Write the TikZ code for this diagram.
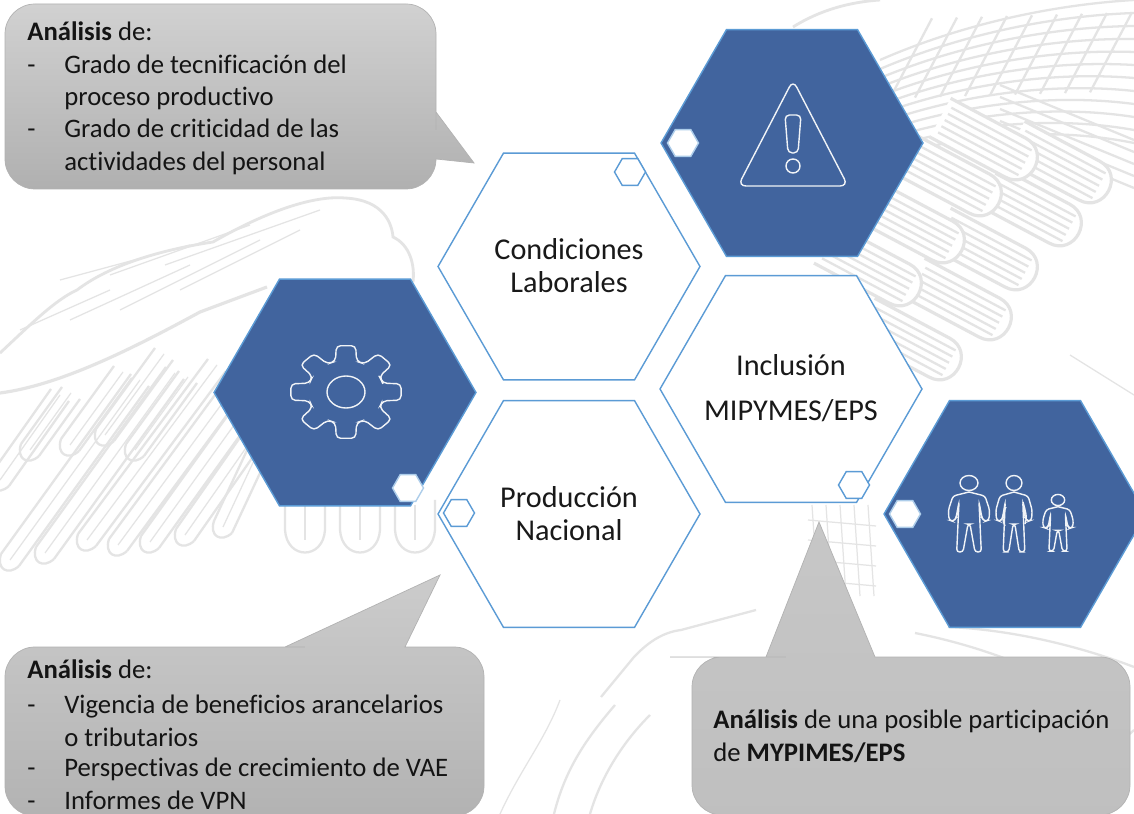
\documentclass[tikz,border=0pt]{standalone}
\usepackage{fontspec}
\setmainfont{Carlito}[Ligatures=CommonOff]
\usetikzlibrary{shapes.geometric}
\definecolor{hexblue}{HTML}{41649E}
\definecolor{hexline}{HTML}{5B9BD5}
\definecolor{markgray}{HTML}{E4E4E4}
\tikzset{
    hexbase/.style={regular polygon,regular polygon sides=6,minimum size=5.24cm,inner sep=0pt,outer sep=0pt,draw=hexline,line width=0.8pt},
    hexwhite/.style={hexbase,fill=white},
    hextext/.style={align=center,inner sep=0pt,font=\fontsize{17.2}{18.7}\selectfont,text=black!90},
    hexdark/.style={hexbase,fill=hexblue},
    hexmark/.style={regular polygon,regular polygon sides=6,minimum size=0.62cm,inner sep=0pt,draw=hexline,line width=0.8pt,fill=white},
    hexdot/.style={hexmark,draw=white!50!hexline},
    iconline/.style={draw=white!92!hexblue,line width=0.8pt},
    callbox/.style={draw=black!30,line width=0.4pt,rounded corners=0.6cm},
    calltext/.style={anchor=base west,inner sep=0pt,font=\fontsize{15.2}{18}\selectfont,text=black!92},
    markline/.style={draw=markgray,line width=1.3pt},
    markthin/.style={draw=markgray,line width=0.7pt},
    feather/.pic={
        \draw[markline,fill=white,line width=1.8pt] (-105,-22) -- (-20,-22) .. controls (9,-22) and (9,22) .. (-20,22) -- (-105,22);
        \foreach \w in {-14,-7,0,7,14}{
            \draw[markline] (-100,\w) -- (-9,\w);
        }
    },
    person/.pic={
        \draw[iconline] (0,0) ellipse (9 and 7.5);
        \foreach \s in {-1,1}{
            \draw[iconline,rounded corners=1.6pt,xscale=\s] (0,9) -- (16,13) -- (20.6,27) -- (20,37) -- (15.6,38.5) -- (13,35) -- (10,19) -- (12.3,69) -- (6,69) -- (1,41) -- (0,41);
        }
    }
}
\begin{document}
\begin{tikzpicture}[x=0.02cm,y=-0.02cm]
    \useasboundingbox[fill=white] (0,0) rectangle (1134,814);
    % left wing of the watermark
    \draw[markline,line width=1.6pt] (0,353) .. controls (30,325) and (55,300) .. (77,290) .. controls (110,265) and (160,250) .. (213,242) .. controls (260,215) and (310,195) .. (345,198) .. controls (385,200) and (392,225) .. (393,237) .. controls (410,245) and (415,265) .. (413,282);
    \draw[markline,line width=1.8pt] (0,393) .. controls (60,385) and (130,350) .. (200,312) -- (267,287);
    \foreach \tx/\ty/\dx/\dy in {10/560/130/180,45/553/130/180,87/540/130/175,118/545/125/170,150/542/115/160,185/535/105/150,223/527/70/150,30/450/41/57,70/445/53/73,105/435/59/81,135/450/53/73,0/480/60/85}{
        \draw[markline] (\tx-9,\ty-6) -- +(\dx,-\dy);
        \draw[markline] (\tx+9,\ty+6) -- +(\dx,-\dy);
        \draw[markline] (\tx-9,\ty-6) .. controls (\tx-14,\ty+9) and (\tx-2,\ty+16) .. (\tx+9,\ty+6);
        \draw[markthin] (\tx,\ty) -- +(\dx,-\dy);
    }
    \foreach \a/\b/\c/\d in {60/280/190/245,110/275/250/225,165/265/320/210,20/330/110/290,70/320/190/265,120/310/260/240,180/290/300/230}{
        \draw[markthin] (\a,\b) -- (\c,\d);
    }
    \foreach \tx in {305,360,415}{
        \draw[markline] (\tx+20,500) -- (\tx+20,530) .. controls (\tx+18,560) and (\tx-18,560) .. (\tx-20,530) -- (\tx-20,500);
        \draw[markthin] (\tx,505) -- (\tx,540);
    }
    % right wing of the watermark
    \draw[markline,line width=1.6pt] (793,27) .. controls (820,10) and (850,2) .. (880,0);
    \foreach \y in {0,10,...,110}{
        \draw[markline] (880,60+\y*0.9) .. controls (960,25+\y) and (1050,5+\y*1.1) .. (1134,0+\y*1.3);
    }
    \foreach \x in {890,915,...,1110}{
        \draw[markline] (\x,125-\x*0.03) -- (\x+42,45-\x*0.03);
    }
    \foreach \y in {85,97,...,133}{
        \draw[markline] (1000,\y) -- (1134,\y+55);
    }
    \foreach \tx/\ty in {957/367,1007/327,917/293,1033/277,960/250,1077/233,997/203,1107/190,1033/167}{
        \pic[rotate=-28] at (\tx,\ty) {feather};
    }
    % body and claw of the watermark
    \foreach \x in {812,826,...,868}{
        \draw[markthin] (\x,505) -- (\x+6,596);
    }
    \foreach \y in {520,540,...,590}{
        \draw[markthin] (808,\y) -- (876,\y+6);
    }
    \draw[markline] (601,697) -- (634,657) .. controls (650,640) and (665,632) .. (681,630) -- (756,610);
    \draw[markline] (554,814) .. controls (565,770) and (585,740) .. (615,705);
    \draw[markline] (590,814) .. controls (600,780) and (620,745) .. (650,715);
    \draw[markline] (915,633) .. controls (1000,650) and (1060,680) .. (1102,707);
    \draw[markline] (948,627) .. controls (1020,630) and (1090,650) .. (1134,667);
    \draw[markline] (1134,730) .. controls (1134,730) and (1090,770) .. (1040,814);
    \draw[markline] (740,690) -- (800,735) -- (880,800);
    \draw[markthin] (1070,355) -- (1134,395);
    \draw[markthin] (500,814) .. controls (520,770) and (545,740) .. (560,700);
    % white hexagons
    \node[hexwhite] (condiciones) at (569,266.5) {};
    \node[hexwhite] (inclusion) at (791,389) {};
    \node[hexwhite] (produccion) at (569,514) {};
    \node[hextext] (condicionestxt) at (569,265.5) {Condiciones\\Laborales};
    \node[hextext] (inclusiontxt) at (791,388) {Inclusión\\[0.24cm]MIPYMES/EPS};
    \node[hextext] (producciontxt) at (569,513.5) {Producción\\Nacional};
    % dark hexagons
    \node[hexdark] (alerta) at (792,143) {};
    \node[hexdark] (engrane) at (345,392.5) {};
    \node[hexdark] (personas) at (1015,514) {};
    % small hexagons
    \node[hexmark] (markcond) at (630,172) {};
    \node[hexmark] (markincl) at (854,485) {};
    \node[hexmark] (markprod) at (459,513) {};
    \node[hexdot] (dotalerta) at (683,143) {};
    \node[hexdot] (dotengrane) at (408,488) {};
    \node[hexdot] (dotpersonas) at (905,514) {};
    % warning sign
    \draw[iconline,rounded corners=4.5pt] (793,80) -- (848,186) -- (738,186) -- cycle;
    \draw[iconline,rounded corners=2.5pt] (785,115) -- (801,115) -- (798,153) -- (788,153) -- cycle;
    \draw[iconline] (793,166) circle (7);
    % gear
    \draw[iconline] (346,392) ellipse (19 and 16);
    \begin{scope}[shift={(346,392)},xscale=1.19]
        \draw[iconline,rounded corners=2.5pt] (-22.5:32) \foreach \a in {0,45,...,315}{ -- (\a-16:32) -- (\a-10:47) -- (\a+10:47) -- (\a+16:32) } -- cycle;
    \end{scope}
    % family
    \pic at (969,483) {person};
    \pic[xscale=0.88] at (1014,483) {person};
    \pic[scale=0.74] at (1058,500) {person};
    \draw[iconline] (1006,507) .. controls (1002,515) and (1002,520) .. (1005,526);
    \draw[iconline] (1023,502) .. controls (1025,510) and (1028,518) .. (1025,524);
    % callouts
    \draw[callbox,top color=black!18,bottom color=black!31] (200,4) -- (436,4) -- (436,100) [sharp corners] -- (436,112) -- (474,163) -- (436,159) -- (436,158.5) [rounded corners=0.6cm] -- (436,189) -- (5,189) -- (5,4) -- cycle;
    \draw[callbox,top color=black!20,bottom color=black!30] (150,647) -- (275,647) [sharp corners] -- (285,647) -- (440,575) -- (405,647) -- (415,647) [rounded corners=0.6cm] -- (484,647) -- (484,816) -- (5,816) -- (5,647) -- cycle;
    \draw[callbox,top color=black!22,bottom color=black!25] (700,657) -- (756,657) [sharp corners] -- (766,657) -- (819,522) -- (875,657) -- (885,657) [rounded corners=0.6cm] -- (1130,657) -- (1130,815) -- (692,815) -- (692,657) -- cycle;
    % callout texts
    \foreach \nm/\x/\y/\tx in {a/27/41/{\textbf{Análisis} de:},b/27/74/-,c/64/74/Grado de tecnificación del,d/64/106/proceso productivo,e/27/138/-,f/64/138/Grado de criticidad de las,g/64/171/actividades del personal,
        h/27/679/{\textbf{Análisis} de:},i/27/713/-,j/64/713/Vigencia de beneficios arancelarios,k/64/746/o tributarios,l/27/776/-,m/64/776/Perspectivas de crecimiento de VAE,n/27/809/-,o/64/809/Informes de VPN,
        p/713/728/{\textbf{Análisis} de una posible participación},q/713/761/{de \textbf{MYPIMES/EPS}}}{
        \node[calltext] (txt\nm) at (\x,\y) {\tx};
    }
\end{tikzpicture}
\end{document}
